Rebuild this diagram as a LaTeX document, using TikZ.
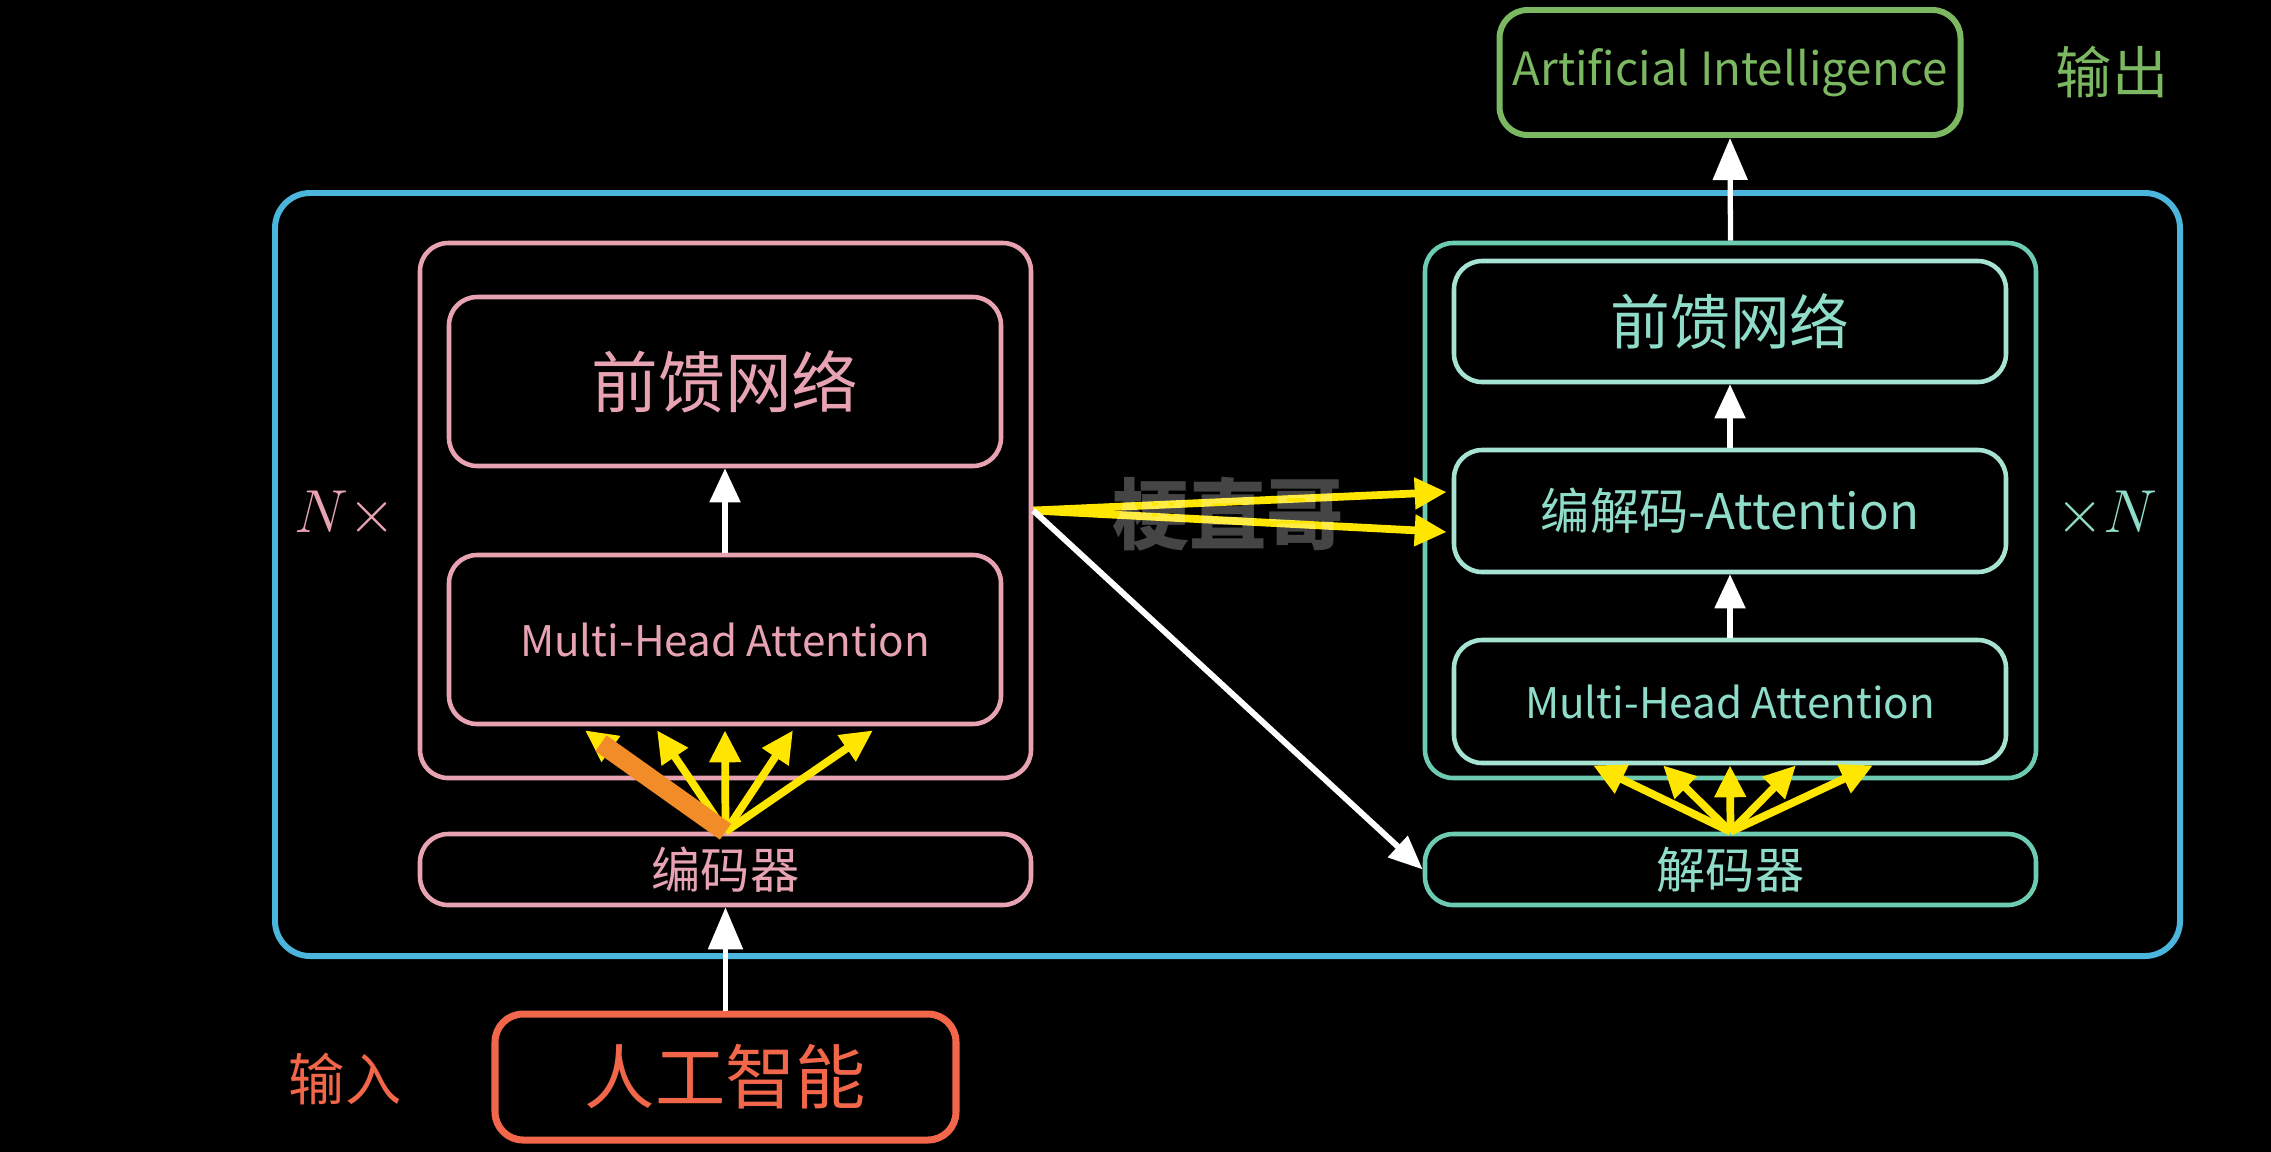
\documentclass[tikz,border=0pt]{standalone}
\usepackage{fontspec}
\setmainfont{Noto Sans CJK SC}
\usepackage{tikz}
\usetikzlibrary{arrows.meta, positioning, calc}
\usepackage{xcolor}
\definecolor{encpink}{HTML}{E8A3B3}
\definecolor{decteal}{HTML}{6CCBB0}
\definecolor{decmint}{HTML}{A6E3D3}
\definecolor{dectext}{HTML}{8FDCC8}
\definecolor{frameblue}{HTML}{4BB5DC}
\definecolor{outgreen}{HTML}{7CB862}
\definecolor{inred}{HTML}{F2664A}
\definecolor{fanyellow}{HTML}{FFE600}
\definecolor{fanorange}{HTML}{F28C28}
\tikzset{
  box/.style     = {draw, rounded corners=8pt, align=center, line width=1.3pt,
                    inner sep=0pt},
  encbox/.style  = {box, draw=encpink, text=encpink, minimum width=6.11cm},
  encin/.style   = {box, draw=encpink, text=encpink, minimum width=5.52cm,
                    minimum height=1.69cm},
  decbox/.style  = {box, draw=decteal, text=dectext, minimum width=6.11cm},
  decin/.style   = {box, draw=decmint, text=dectext, minimum width=5.52cm},
  up/.style      = {-{Triangle[length=0.34cm, width=0.3cm]}, line width=1.5pt, draw=white},
  fan/.style     = {-{Triangle[length=0.32cm, width=0.3cm]}, line width=2.2pt, draw=fanyellow},
  side/.style    = {font=\fontsize{16}{18}\selectfont}
}

\begin{document}
\begin{tikzpicture}
\useasboundingbox (0,0) rectangle (22.71,-11.51);
\fill[black] (-0.1,0.1) rectangle (22.81,-11.61);

% outer frame
\node[box, draw=frameblue, line width=1.7pt, rounded corners=10pt,
      minimum width=19.05cm, minimum height=7.63cm] at (12.275,-5.745) (frame) {};

% encoder side
\node[encbox, minimum height=5.35cm] at (7.255,-5.105) (enc) {};
\node[encin, font=\fontsize{19}{22}\selectfont] at (7.25,-3.815) (encffn) {前馈网络};
\node[encin, font=\fontsize{12}{14}\selectfont] at (7.25,-6.395) (encmha) {Multi-Head Attention};
\node[encbox, minimum height=0.71cm, font=\fontsize{14}{16}\selectfont] at (7.255,-8.695) (enclbl) {编码器};
\node[font=\fontsize{17}{19}\selectfont, text=encpink] at (3.45,-5.14) (encrep) {$N\times$};

% decoder side
\node[decbox, minimum height=5.35cm] at (17.305,-5.105) (dec) {};
\node[decin, minimum height=1.21cm, font=\fontsize{17}{20}\selectfont] at (17.3,-3.215) (decffn) {前馈网络};
\node[decin, minimum height=1.22cm, font=\fontsize{14}{16}\selectfont] at (17.3,-5.11) (deccross) {编解码-Attention};
\node[decin, minimum height=1.23cm, font=\fontsize{12}{14}\selectfont] at (17.3,-7.015) (decmha) {Multi-Head Attention};
\node[decbox, minimum height=0.71cm, font=\fontsize{14}{16}\selectfont] at (17.305,-8.695) (declbl) {解码器};
\node[font=\fontsize{17}{19}\selectfont, text=dectext] at (21.07,-5.14) (decrep) {$\times N$};

% input / output
\node[box, draw=inred, text=inred, line width=2pt, minimum width=4.61cm, minimum height=1.26cm,
      font=\fontsize{20}{24}\selectfont] at (7.255,-10.77) (input) {人工智能};
\node[side, text=inred] at (3.45,-10.79) (inlbl) {输入};
\node[box, draw=outgreen, text=outgreen, line width=1.7pt, minimum width=4.61cm, minimum height=1.25cm,
      font=\fontsize{13}{15}\selectfont] at (17.3,-0.725) (output) {Artificial Intelligence};
\node[side, text=outgreen] at (21.12,-0.72) (outlbl) {输出};

% white flow arrows
\draw[up, -{Triangle[length=0.42cm, width=0.34cm]}] (input.north) -- (enclbl.south);
\draw[up] (encmha.north) -- (encffn.south);
\draw[up] (decmha.north) -- (deccross.south);
\draw[up] (deccross.north) -- (decffn.south);
\draw[up, -{Triangle[length=0.42cm, width=0.34cm]}] (dec.north) -- (output.south);

% attention fans
\foreach \dx in {-1.40,-0.68,0,0.68,1.48}
  \draw[fan] (enclbl.north) -- ($(encmha.south)+(\dx,-0.04)$);
\draw[fanorange, line width=5.5pt] (enclbl.north) -- ($(encmha.south)+(-1.24,-0.17)$);
\foreach \dx in {-1.37,-0.67,0,0.66,1.43}
  \draw[fan] (declbl.north) -- ($(decmha.south)+(\dx,0)$);

% encoder to decoder
\draw[fan] (enc.east) -- ($(deccross.west)+(-0.05,0.19)$);
\draw[fan] (enc.east) -- ($(deccross.west)+(-0.05,-0.21)$);
\draw[up, -{Triangle[length=0.34cm, width=0.28cm]}, line width=1.7pt] (enc.east) -- (declbl.west);

% watermark
\node[text=white, text opacity=0.27, font=\fontsize{22}{24}\selectfont\bfseries] at (12.28,-5.14) (mark) {梗直哥};
\end{tikzpicture}
\end{document}
